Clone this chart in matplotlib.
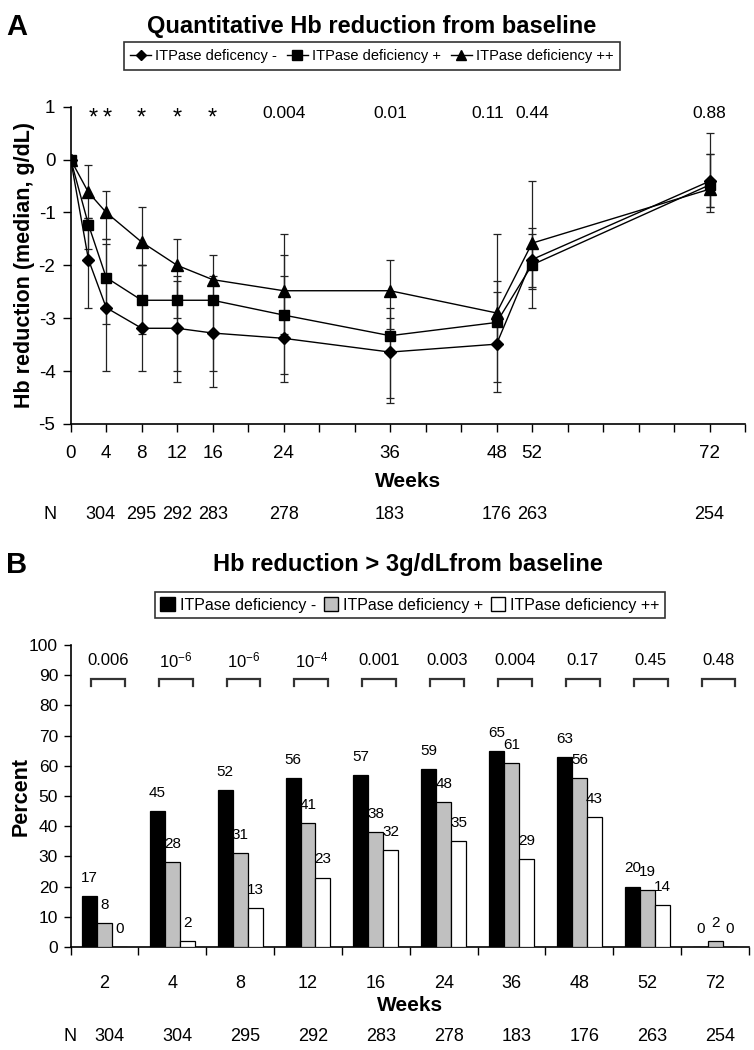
import numpy as np
import matplotlib.pyplot as plt
from matplotlib.lines import Line2D
from matplotlib.patches import Patch

plt.rcParams['font.family'] = ['Liberation Sans', 'DejaVu Sans']
plt.rcParams['mathtext.default'] = 'regular'
plt.rcParams['axes.unicode_minus'] = False

# ---- panel A data ----
weeks = [0, 2, 4, 8, 12, 16, 24, 36, 48, 52, 72]
hb_neg = [0, -1.89, -2.8, -3.19, -3.19, -3.28, -3.38, -3.64, -3.49, -1.89, -0.41]
hb_pos = [0, -1.23, -2.23, -2.66, -2.66, -2.66, -2.94, -3.33, -3.08, -1.99, -0.48]
hb_pp = [0, -0.62, -1.0, -1.56, -2.0, -2.27, -2.48, -2.48, -2.9, -1.58, -0.56]
neg_hi = [0, -1.2, -1.5, -2.0, -2.3, -2.6, -2.2, -3.0, -2.5, -1.4, 0.1]
neg_lo = [0, -2.8, -4.0, -4.0, -4.2, -4.3, -4.2, -4.6, -4.4, -2.45, -0.9]
pos_hi = [0, -1.1, -1.6, -2.0, -2.2, -2.2, -1.8, -2.8, -2.3, -1.3, 0.1]
pos_lo = [0, -1.7, -3.1, -3.3, -4.0, -4.0, -4.05, -4.5, -4.2, -2.8, -1.0]
pp_hi = [0, -0.1, -0.6, -0.9, -1.5, -1.8, -1.4, -1.9, -1.4, -0.4, 0.5]
pp_lo = [0, -1.1, -1.5, -2.0, -3.0, -2.7, -3.3, -3.2, -3.5, -2.4, -0.9]
a_ticklabels = [0, 4, 8, 12, 16, 24, 36, 48, 52, 72]
a_sig_x = [2.5, 4.1, 8, 12, 16, 24, 36, 47, 52, 72]
a_sig_txt = ['*', '*', '*', '*', '*', '0.004', '0.01', '0.11', '0.44', '0.88']
a_n_x = [3.3, 8, 12, 16, 24, 36, 48, 52, 72]
a_n = [304, 295, 292, 283, 278, 183, 176, 263, 254]

# ---- panel B data ----
b_weeks = ['2', '4', '8', '12', '16', '24', '36', '48', '52', '72']
pct_neg = [17, 45, 52, 56, 57, 59, 65, 63, 20, 0]
pct_pos = [8, 28, 31, 41, 38, 48, 61, 56, 19, 2]
pct_pp = [0, 2, 13, 23, 32, 35, 29, 43, 14, 0]
b_p = ['0.006', '$10^{-6}$', '$10^{-6}$', '$10^{-4}$', '0.001', '0.003',
       '0.004', '0.17', '0.45', '0.48']
b_n = [304, 304, 295, 292, 283, 278, 183, 176, 263, 254]

W, H = 754, 1050
fig = plt.figure(figsize=(W / 100, H / 100), dpi=100)


def fx(px):
    return px / W


def fy(py):
    return 1 - py / H


# ================= panel A =================
axA = fig.add_axes([fx(70.7), fy(424), fx(745 - 70.7), (424 - 106.7) / H])
series = [(hb_neg, neg_lo, neg_hi, 'D', 6.5),
          (hb_pos, pos_lo, pos_hi, 's', 7.5),
          (hb_pp, pp_lo, pp_hi, '^', 8)]
for y, lo, hi, mk, ms in series:
    y = np.array(y)
    err = [y - np.array(lo), np.array(hi) - y]
    axA.errorbar(weeks, y, yerr=err, fmt='-', marker=mk, ms=ms, color='black',
                 mfc='black', mec='black', lw=1, elinewidth=0.9, ecolor='#222222',
                 capsize=3, capthick=0.9, zorder=3)

axA.set_xlim(0, 76)
axA.set_ylim(-5, 1)
axA.set_xticks(np.arange(0, 77, 4))
axA.set_xticklabels([str(t) if t in a_ticklabels else '' for t in range(0, 77, 4)])
axA.set_yticks(range(-5, 2))
axA.spines['top'].set_visible(False)
axA.spines['right'].set_visible(False)
axA.tick_params(direction='out', length=6, width=1, labelsize=13.5)
axA.tick_params(axis='x', pad=9)
axA.tick_params(axis='y', pad=5)
for s in ['left', 'bottom']:
    axA.spines[s].set_linewidth(1.2)
axA.set_ylabel('Hb reduction (median, g/dL)', fontsize=15.5, fontweight='bold')
axA.yaxis.set_label_coords(-0.053, 0.5)

for x, t in zip(a_sig_x, a_sig_txt):
    if t == '*':
        axA.text(x, 0.78, t, ha='center', va='center', fontsize=17)
    else:
        axA.text(x, 0.87, t, ha='center', va='center', fontsize=12.5)

tr = axA.get_xaxis_transform()
axA.text(38, -0.18, 'Weeks', transform=tr, ha='center', va='center',
         fontsize=15, fontweight='bold')
axA.text(-2.3, -0.286, 'N', transform=tr, ha='center', va='center', fontsize=13)
for x, n in zip(a_n_x, a_n):
    axA.text(x, -0.286, str(n), transform=tr, ha='center', va='center', fontsize=13)

handles_a = [Line2D([], [], color='black', marker='D', ms=5.5, lw=1),
             Line2D([], [], color='black', marker='s', ms=6.5, lw=1),
             Line2D([], [], color='black', marker='^', ms=7, lw=1)]
legA = fig.legend(handles_a, ['ITPase deficency -', 'ITPase deficiency +',
                              'ITPase deficiency ++'],
                  loc='center', bbox_to_anchor=(fx(372), fy(56)), ncol=3,
                  fontsize=10.5, frameon=True, fancybox=False, handlelength=1.4,
                  handletextpad=0.3, columnspacing=0.7, borderpad=0.45)
legA.get_frame().set_edgecolor('black')
legA.get_frame().set_linewidth(1.2)

fig.text(fx(372), fy(27), 'Quantitative Hb reduction from baseline',
         ha='center', va='center', fontsize=17, fontweight='bold')
fig.text(fx(17), fy(27), 'A', ha='center', va='center', fontsize=21,
         fontweight='bold')

# ================= panel B =================
axB = fig.add_axes([fx(70.5), fy(947), fx(749 - 70.5), (947 - 645) / H])
x = np.arange(len(b_weeks))
bw = 0.22
bars = [(pct_neg, -bw, 'black'), (pct_pos, 0, '#c0c0c0'), (pct_pp, bw, 'white')]
for vals, off, col in bars:
    axB.bar(x + off, vals, bw, color=col, edgecolor='black', linewidth=0.9,
            zorder=3)
    for xi, v in zip(x, vals):
        axB.text(xi + off, v + 6, str(v), ha='center', va='center',
                 fontsize=11)

for xi, p in zip(x, b_p):
    c = xi + 0.05
    axB.plot([c - 0.25, c - 0.25, c + 0.25, c + 0.25], [86.3, 88.6, 88.6, 86.3],
             color='#333333', lw=1.6, solid_joinstyle='miter')
    axB.text(c, 94.8, p, ha='center', va='center', fontsize=12)

axB.set_xlim(-0.5, 9.5)
axB.set_ylim(0, 100)
axB.set_yticks(range(0, 101, 10))
axB.set_xticks(np.arange(-0.5, 10, 1))
axB.set_xticklabels([])
axB.set_xticks(x, minor=True)
axB.set_xticklabels(b_weeks, minor=True)
axB.tick_params(axis='x', which='minor', length=0, labelsize=13, pad=20)
axB.tick_params(axis='x', which='major', direction='out', length=6, width=1)
axB.tick_params(axis='y', direction='out', length=5, width=1, labelsize=12.5, pad=4)
axB.spines['top'].set_visible(False)
axB.spines['right'].set_visible(False)
for s in ['left', 'bottom']:
    axB.spines[s].set_linewidth(1.2)
axB.set_ylabel('Percent', fontsize=15.5, fontweight='bold')
axB.yaxis.set_label_coords(-0.057, 0.5)

trB = axB.get_xaxis_transform()
axB.text(4.5, -0.195, 'Weeks', transform=trB, ha='center', va='center',
         fontsize=15, fontweight='bold')
axB.text(-0.5, -0.298, 'N', transform=trB, ha='center', va='center', fontsize=13)
for xi, n in zip(x, b_n):
    axB.text(xi + 0.08, -0.298, str(n), transform=trB, ha='center', va='center',
             fontsize=13)

handles_b = [Patch(facecolor='black', edgecolor='black'),
             Patch(facecolor='#c0c0c0', edgecolor='black'),
             Patch(facecolor='white', edgecolor='black')]
legB = fig.legend(handles_b, ['ITPase deficiency -', 'ITPase deficiency +',
                              'ITPase deficiency ++'],
                  loc='center', bbox_to_anchor=(fx(410), fy(605)), ncol=3,
                  fontsize=11.5, frameon=True, fancybox=False, handlelength=0.9,
                  handleheight=0.9, handletextpad=0.3, columnspacing=0.5,
                  borderpad=0.35)
legB.get_frame().set_edgecolor('black')
legB.get_frame().set_linewidth(1.2)

fig.text(fx(408), fy(565), 'Hb reduction > 3g/dLfrom baseline',
         ha='center', va='center', fontsize=17, fontweight='bold')
fig.text(fx(17), fy(565), 'B', ha='center', va='center', fontsize=21,
         fontweight='bold')

fig.savefig('out.png', dpi=100)
